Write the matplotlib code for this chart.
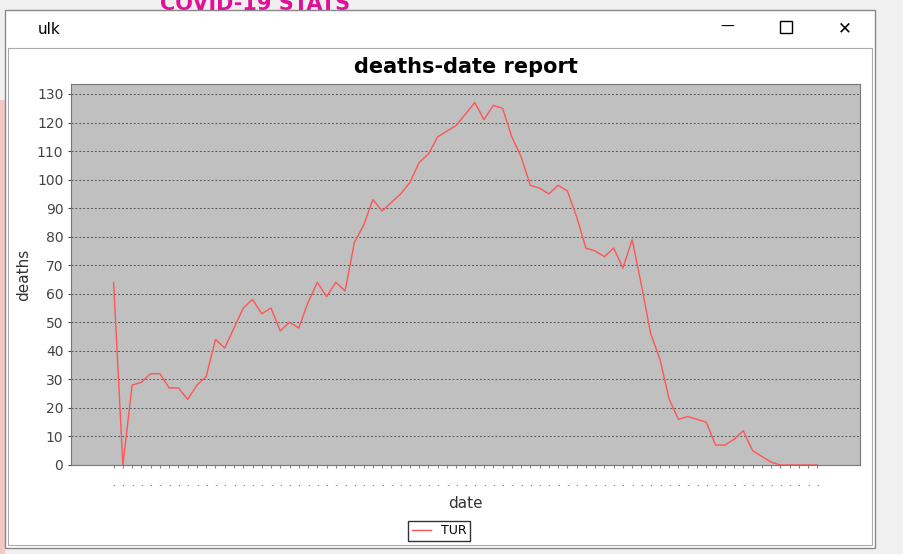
import matplotlib.pyplot as plt
from matplotlib.patches import Rectangle
from matplotlib.lines import Line2D

deaths = [64, 0, 28, 29, 32, 32, 27, 27, 23, 28, 31, 44, 41, 48, 55, 58, 53, 55, 47, 50,
          48, 57, 64, 59, 64, 61, 78, 84, 93, 89, 92, 95, 99, 106, 109, 115, 117, 119, 123, 127,
          121, 126, 125, 115, 108, 98, 97, 95, 98, 96, 87, 76, 75, 73, 76, 69, 79, 63, 46, 37,
          23, 16, 17, 16, 15, 7, 7, 9, 12, 5, 3, 1, 0, 0, 0, 0, 0]
days = list(range(len(deaths)))
yticks = list(range(0, 131, 10))

W, H = 904, 554
fig = plt.figure(figsize=(W / 100, H / 100), dpi=100)
fig.patch.set_facecolor('#f0f0f0')

def box(x, y, w, h, **kw):
    # pixel rect, y from top
    fig.patches.append(Rectangle((x / W, 1 - (y + h) / H), w / W, h / H,
                                 transform=fig.transFigure, zorder=-5, **kw))

# background screen bits
box(0, 100, 5, 454, facecolor='#f4c8c8', edgecolor='none')
fig.text(160 / W, 1 - 4 / H, 'COVID-19 STATS', color='#e0109a', fontsize=15,
         fontweight='bold', va='center', ha='left', zorder=-6)
# window
box(5, 10, 870, 538, facecolor='white', edgecolor='#888888', lw=1)
box(8, 48, 864, 497, facecolor='white', edgecolor='#aaaaaa', lw=0.8)
fig.text(38 / W, 1 - 29 / H, 'ulk', fontsize=11, va='center')
fig.text(727 / W, 1 - 27 / H, '—', fontsize=10, va='center', ha='center')
box(780, 21, 12, 12, facecolor='none', edgecolor='black', lw=1)
fig.text(845 / W, 1 - 28 / H, '✕', fontsize=12, va='center', ha='center')

ax = fig.add_axes([71 / W, (H - 465) / H, 789 / W, 381 / H])
ax.set_zorder(5)
ax.set_facecolor('#c0c0c0')
ax.plot(days, deaths, color='#ff5555', lw=1, label='TUR')
ax.set_xlim(-4.6, len(deaths) - 1 + 4.6)
ax.set_ylim(0, 133.5)
ax.set_yticks(yticks)
ax.set_xticks(days)
ax.set_xticklabels(['.'] * len(days), fontsize=6)
ax.tick_params(axis='x', length=2, pad=8, color='#888888')
ax.tick_params(axis='y', labelsize=10, colors='#444444', length=2)
ax.grid(axis='y', color='#555555', linestyle=(0, (2, 2)), lw=0.7)
for s in ax.spines.values():
    s.set_color('#777777')
ax.set_title('deaths-date report', fontsize=15, fontweight='bold', pad=8)
ax.set_ylabel('deaths', fontsize=11, color='#333333')
ax.set_xlabel('date', fontsize=11, color='#333333', labelpad=6)
fig.legend(handles=[Line2D([], [], color='#ff5555', lw=1)], labels=['TUR'],
           loc='center', bbox_to_anchor=(439 / W, 1 - 531 / H), fancybox=False,
           edgecolor='black', fontsize=9, handlelength=1.5, borderpad=0.3)

fig.savefig('out.png', dpi=100)
